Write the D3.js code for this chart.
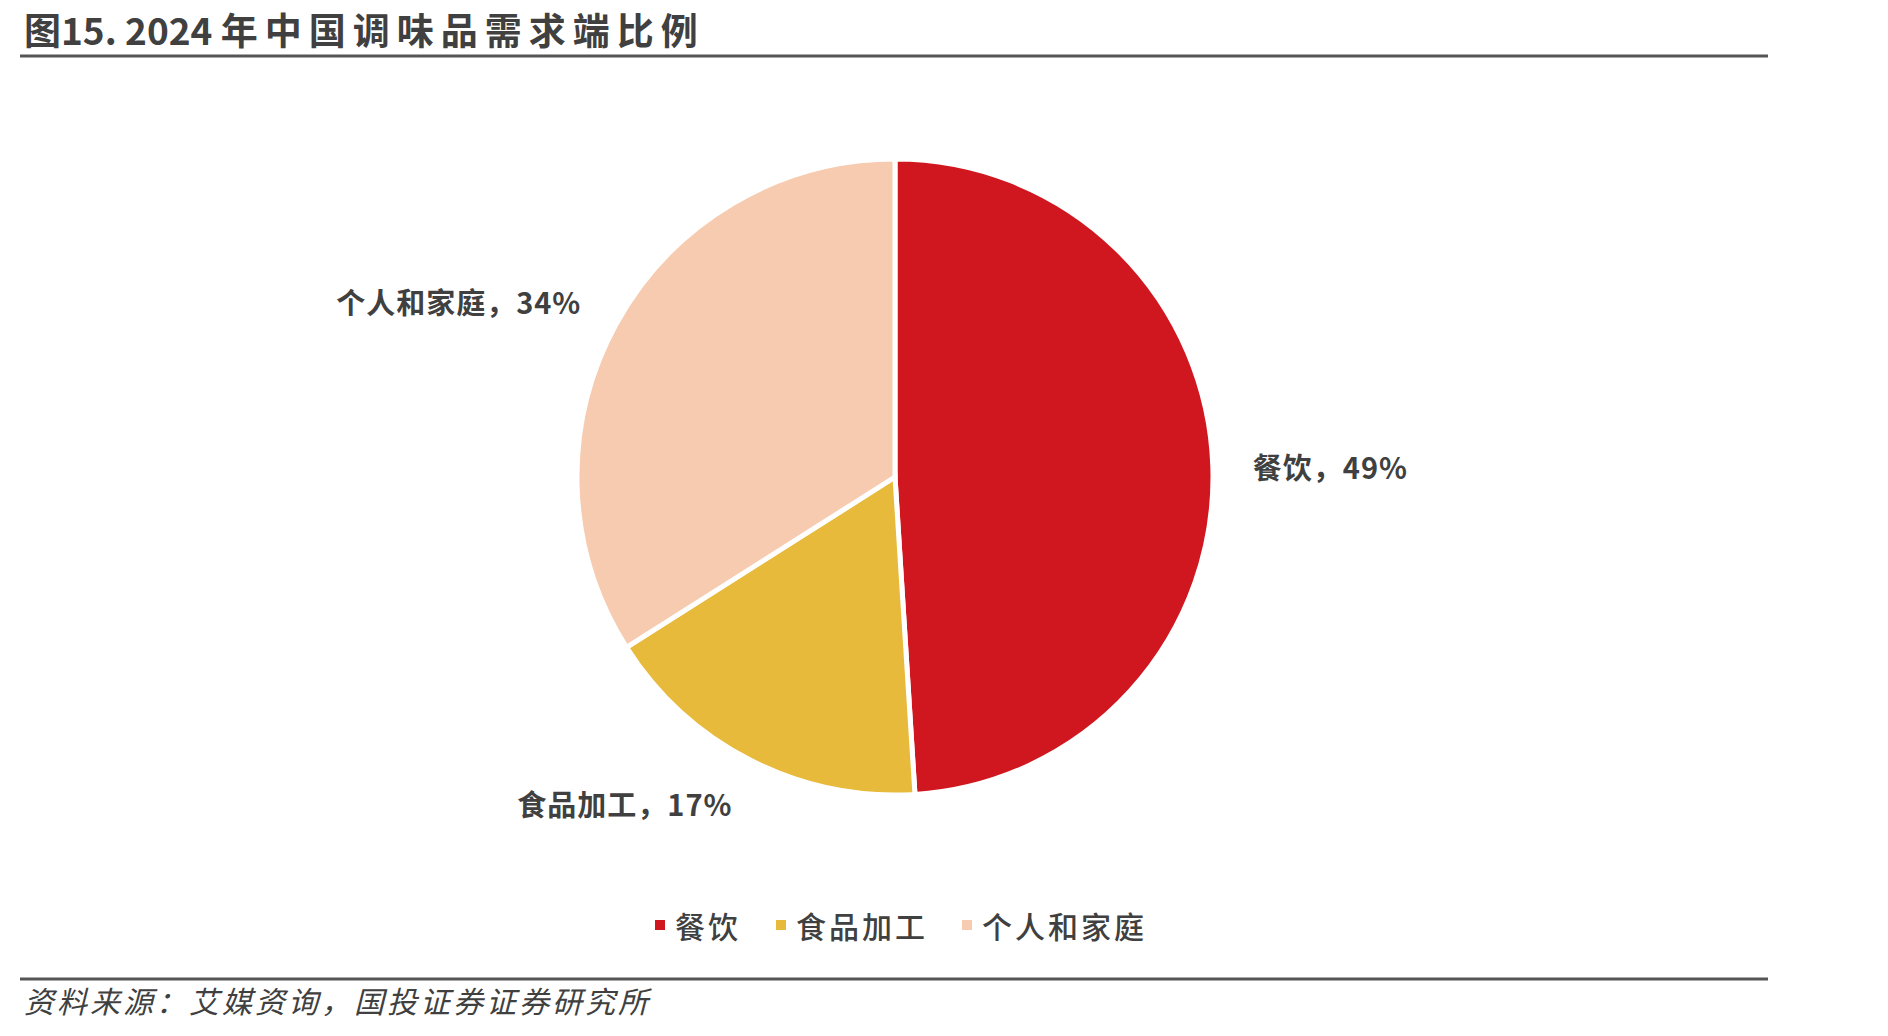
<!DOCTYPE html>
<html><head><meta charset="utf-8">
<script src="https://cdn.jsdelivr.net/npm/d3@7"></script>
<style>
html,body{margin:0;padding:0;background:#fff;}
svg{display:block;}
text{font-family:"Noto Sans CJK SC","Noto Sans",sans-serif;fill:#404040;}
</style></head>
<body>
<script>
const categories = ["餐饮", "食品加工", "个人和家庭"];
const values = [49, 17, 34];
const colors = ["#D0171F", "#E8BA3C", "#F7CBB0"];
const titleNum = "图15. 2024 ";
const titleText = "年中国调味品需求端比例";
const sourceText = "资料来源：艾媒资询，国投证券证券研究所";

const W = 1888, H = 1036;
const svg = d3.select("body").append("svg").attr("width", W).attr("height", H);

// title
const tt = svg.append("text").attr("x", 24).attr("y", 45)
  .attr("font-size", 37).attr("font-weight", "bold");
tt.append("tspan").text(titleNum);
tt.append("tspan").attr("letter-spacing", 7).text(titleText);
svg.append("line").attr("x1", 20).attr("x2", 1768).attr("y1", 56).attr("y2", 56)
  .attr("stroke", "#555").attr("stroke-width", 3);

// pie
const cx = 895, cy = 477, R = 318;
const pie = d3.pie().sort(null).value(d => d.v);
const data = categories.map((c, i) => ({c, v: values[i], col: colors[i]}));
const arcs = pie(data);
const arc = d3.arc().innerRadius(0).outerRadius(R);
const g = svg.append("g").attr("transform", `translate(${cx},${cy})`);
g.selectAll("path").data(arcs).join("path")
  .attr("d", arc).attr("fill", d => d.data.col)
  .attr("stroke", "#fff").attr("stroke-width", 5).attr("stroke-linejoin", "miter");

const LR = R + 40;
const labelArc = d3.arc().innerRadius(LR).outerRadius(LR);
g.selectAll("text.lbl").data(arcs).join("text").attr("class", "lbl")
  .attr("transform", d => {
    const [x, y] = labelArc.centroid(d);
    return `translate(${x},${y + (y / LR) * 8})`;
  })
  .attr("text-anchor", d => ((d.startAngle + d.endAngle) / 2 < Math.PI ? "start" : "end"))
  .attr("dominant-baseline", "central")
  .attr("font-size", 29).attr("font-weight", "bold").attr("letter-spacing", 1)
  .text(d => `${d.data.c}，${d.data.v}%`);

// legend
const legend = svg.append("g").attr("transform", "translate(0,925)");
const lx = [655, 776, 962];
data.forEach((d, i) => {
  const it = legend.append("g").attr("transform", `translate(${lx[i]},0)`);
  it.append("rect").attr("x", 0).attr("y", -5).attr("width", 10).attr("height", 10).attr("fill", d.col);
  it.append("text").attr("x", 20).attr("y", 0).attr("dominant-baseline", "central")
    .attr("font-size", 30).attr("font-weight", 500).attr("letter-spacing", 3).text(d.c);
});

// bottom rule and source
svg.append("line").attr("x1", 20).attr("x2", 1768).attr("y1", 979).attr("y2", 979)
  .attr("stroke", "#555").attr("stroke-width", 3);
svg.append("text").attr("x", 24).attr("y", 1013).attr("font-size", 30).attr("letter-spacing", 3)
  .attr("font-style", "italic").attr("fill", "#333").text(sourceText);
</script>
</body></html>
